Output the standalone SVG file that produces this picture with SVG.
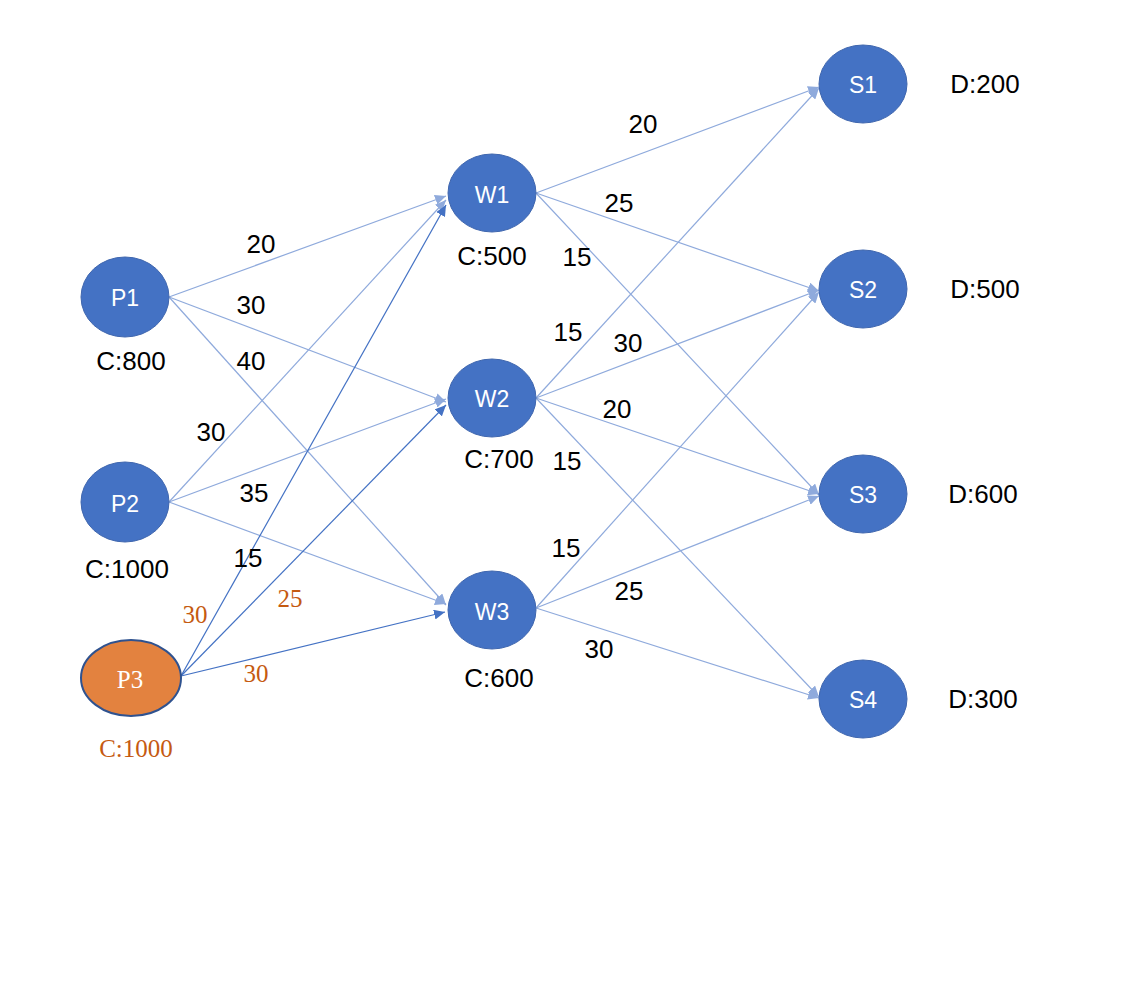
<svg xmlns="http://www.w3.org/2000/svg" width="1134" height="1006" viewBox="0 0 1134 1006">
<style>
.n{fill:#4472C4;stroke:#3F66AE;stroke-width:1}
.nt{font-family:"Liberation Sans",Arial,sans-serif;font-size:23px;fill:#fff;text-anchor:middle}
.lb{font-family:"Liberation Sans",Arial,sans-serif;font-size:26px;fill:#000;text-anchor:middle}
.ob{font-family:"Liberation Serif","Times New Roman",serif;font-size:25px;fill:#C55A11;text-anchor:middle}
.e{stroke:#8FAADC;stroke-width:1.2;fill:none;marker-end:url(#al)}
.d{stroke:#4472C4;stroke-width:1.2;fill:none;marker-end:url(#ad)}
</style>
<defs>
<marker id="al" markerUnits="userSpaceOnUse" markerWidth="12" markerHeight="10" refX="11" refY="5" orient="auto"><path d="M0,0 L11,5 L0,10 Z" fill="#8FAADC"/></marker>
<marker id="ad" markerUnits="userSpaceOnUse" markerWidth="12" markerHeight="10" refX="11" refY="5" orient="auto"><path d="M0,0 L11,5 L0,10 Z" fill="#4472C4"/></marker>
</defs>
<rect width="1134" height="1006" fill="#fff"/>
<g id="connectors">
<line class="e" x1="169" y1="297" x2="446" y2="196"/>
<line class="e" x1="169" y1="297" x2="446" y2="402"/>
<line class="e" x1="169" y1="297" x2="446" y2="605"/>
<line class="e" x1="169" y1="502" x2="446" y2="200"/>
<line class="e" x1="169" y1="502" x2="446" y2="399"/>
<line class="e" x1="169" y1="502" x2="446" y2="604"/>
<line class="d" x1="181" y1="676" x2="446" y2="205"/>
<line class="d" x1="181" y1="676" x2="446" y2="405"/>
<line class="d" x1="181" y1="676" x2="445" y2="612"/>
<line class="e" x1="536" y1="193" x2="819" y2="87"/>
<line class="e" x1="536" y1="193" x2="819" y2="291"/>
<line class="e" x1="536" y1="193" x2="819" y2="495"/>
<line class="e" x1="536" y1="398" x2="819" y2="88"/>
<line class="e" x1="536" y1="398" x2="819" y2="290"/>
<line class="e" x1="536" y1="398" x2="819" y2="494"/>
<line class="e" x1="536" y1="398" x2="819" y2="697"/>
<line class="e" x1="536" y1="608" x2="819" y2="292"/>
<line class="e" x1="536" y1="608" x2="819" y2="496"/>
<line class="e" x1="536" y1="608" x2="819" y2="698"/>
</g>
<g id="edge-labels">
<text class="lb" x="261" y="253">20</text>
<text class="lb" x="251" y="314">30</text>
<text class="lb" x="251" y="370">40</text>
<text class="lb" x="211" y="441">30</text>
<text class="lb" x="254" y="502">35</text>
<text class="lb" x="248" y="567">15</text>
<text class="ob" x="195" y="623">30</text>
<text class="ob" x="290" y="607">25</text>
<text class="ob" x="256" y="682">30</text>
<text class="lb" x="643" y="133">20</text>
<text class="lb" x="619" y="212">25</text>
<text class="lb" x="577" y="266">15</text>
<text class="lb" x="568" y="341">15</text>
<text class="lb" x="628" y="352">30</text>
<text class="lb" x="617" y="418">20</text>
<text class="lb" x="567" y="470">15</text>
<text class="lb" x="566" y="557">15</text>
<text class="lb" x="629" y="600">25</text>
<text class="lb" x="599" y="658">30</text>
</g>
<g id="P1"><ellipse class="n" cx="125" cy="297" rx="44" ry="40"/><text class="nt" x="125" y="306">P1</text><text class="lb" x="131" y="370">C:800</text></g>
<g id="P2"><ellipse class="n" cx="125" cy="502" rx="44" ry="40"/><text class="nt" x="125" y="512">P2</text><text class="lb" x="127" y="578">C:1000</text></g>
<g id="P3"><ellipse cx="131" cy="678" rx="50" ry="38" fill="#E3823F" stroke="#2F528F" stroke-width="2"/><text x="130" y="688" font-family="Liberation Serif,'Times New Roman',serif" font-size="25" fill="#fff" text-anchor="middle">P3</text><text class="ob" x="136" y="757">C:1000</text></g>
<g id="W1"><ellipse class="n" cx="492" cy="193" rx="44" ry="39"/><text class="nt" x="492" y="203">W1</text><text class="lb" x="492" y="265">C:500</text></g>
<g id="W2"><ellipse class="n" cx="492" cy="398" rx="44" ry="39"/><text class="nt" x="492" y="407">W2</text><text class="lb" x="499" y="468">C:700</text></g>
<g id="W3"><ellipse class="n" cx="492" cy="610" rx="44" ry="39"/><text class="nt" x="492" y="620">W3</text><text class="lb" x="499" y="687">C:600</text></g>
<g id="S1"><ellipse class="n" cx="863" cy="84" rx="44" ry="39"/><text class="nt" x="863" y="93">S1</text><text class="lb" x="985" y="93">D:200</text></g>
<g id="S2"><ellipse class="n" cx="863" cy="289" rx="44" ry="39"/><text class="nt" x="863" y="298">S2</text><text class="lb" x="985" y="298">D:500</text></g>
<g id="S3"><ellipse class="n" cx="863" cy="494" rx="44" ry="39"/><text class="nt" x="863" y="503">S3</text><text class="lb" x="983" y="503">D:600</text></g>
<g id="S4"><ellipse class="n" cx="863" cy="699" rx="44" ry="39"/><text class="nt" x="863" y="708">S4</text><text class="lb" x="983" y="708">D:300</text></g>
</svg>
